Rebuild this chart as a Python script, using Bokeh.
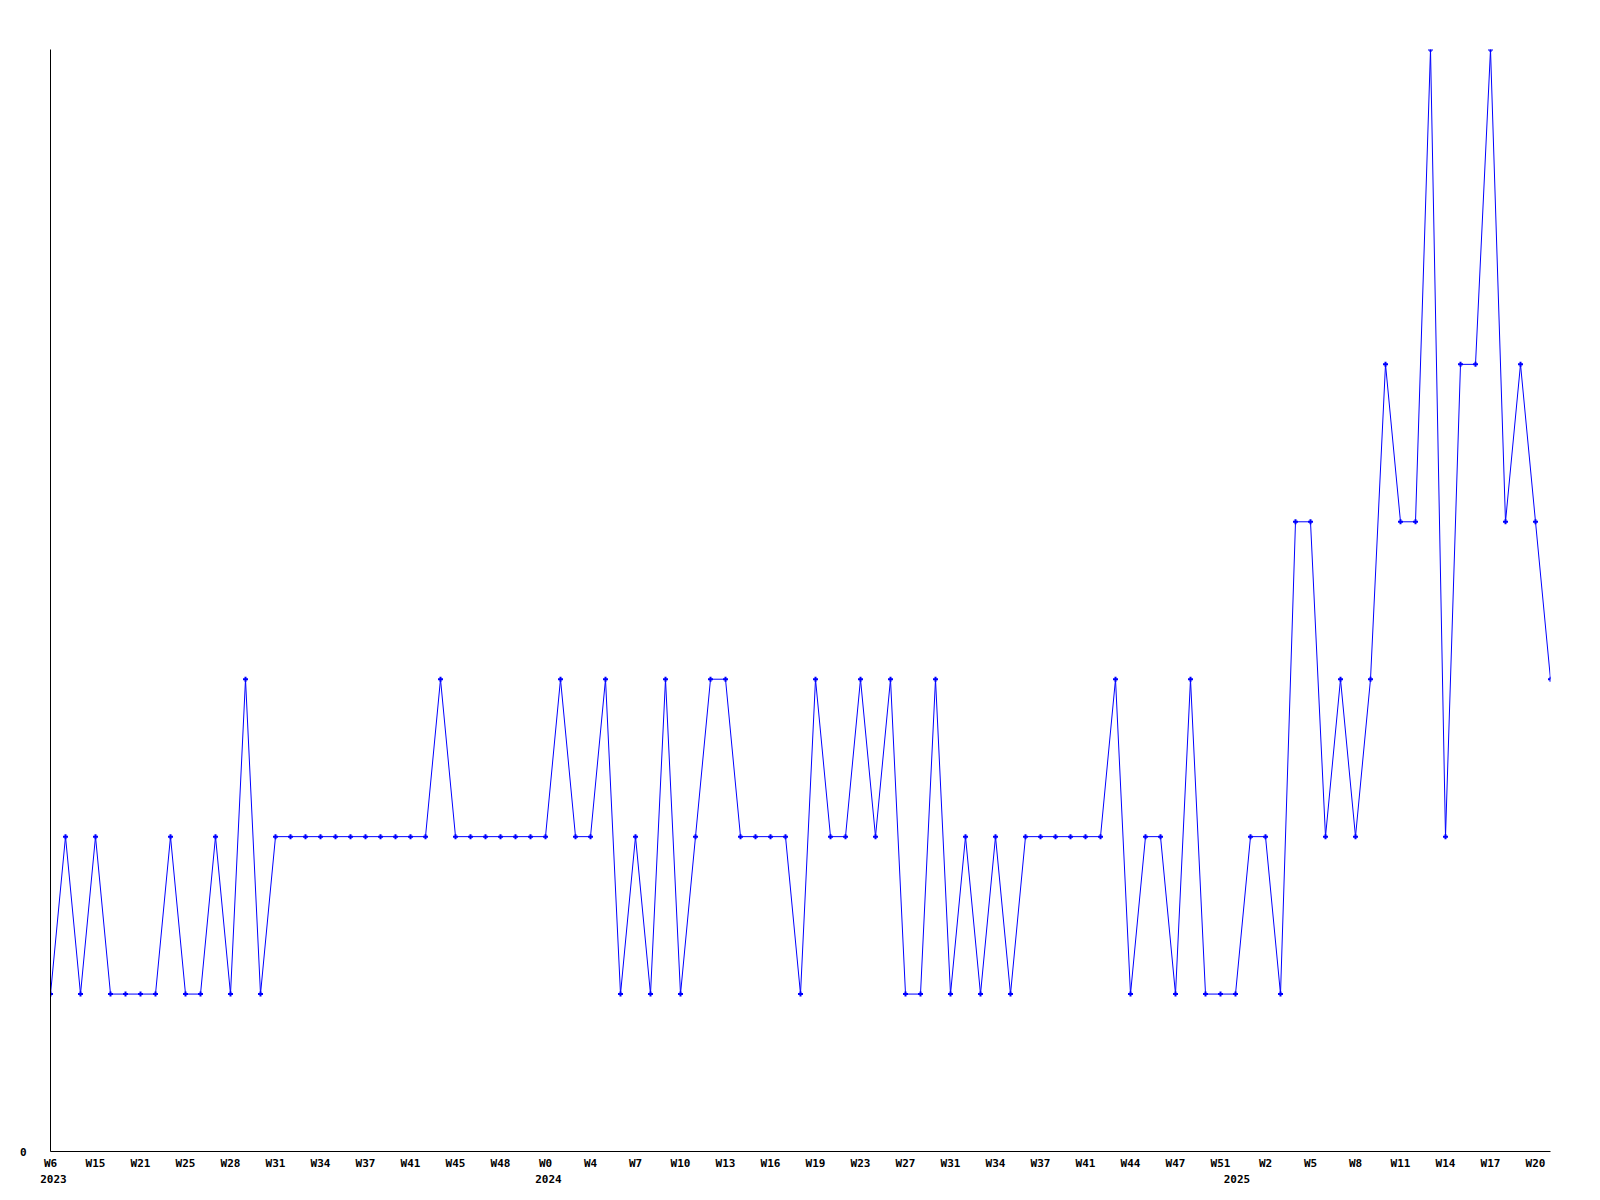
from bokeh.plotting import figure
from bokeh.models import Range1d, FixedTicker, LinearAxis, ColumnDataSource
from bokeh.embed import file_html
from bokeh.resources import INLINE

# weekly counts (one value per week, oldest first)
values = [1, 2, 1, 2, 1, 1, 1, 1, 2, 1, 1, 2, 1, 3, 1, 2,
          2, 2, 2, 2, 2, 2, 2, 2, 2, 2,
          3,
          2, 2, 2, 2, 2, 2, 2,
          3, 2, 2, 3, 1, 2, 1, 3, 1, 2, 3, 3, 2, 2, 2, 2, 1, 3, 2, 2, 3, 2, 3, 1, 1, 3, 1, 2, 1, 2, 1,
          2, 2, 2, 2, 2, 2,
          3, 1, 2, 2, 1, 3, 1, 1, 1, 2, 2, 1, 4, 4, 2, 3, 2, 3, 5, 4, 4, 7, 2, 5, 5, 7, 4, 5, 4, 3]

# tick labels shown every third week
tick_labels = ["W6", "W15", "W21", "W25", "W28", "W31", "W34", "W37", "W41", "W45", "W48",
               "W0", "W4", "W7", "W10", "W13", "W16", "W19", "W23", "W27", "W31", "W34",
               "W37", "W41", "W44", "W47", "W51", "W2", "W5", "W8", "W11", "W14", "W17", "W20"]
tick_step = 3

year_labels = ["2023", "2024", "2025"]
year_index = [0.2, 33.2, 79.1]

y_ticks = [0]

idx = list(range(len(values)))
src = ColumnDataSource(data=dict(x=idx, y=values))

FONT = "DejaVu Sans Mono"

p = figure(width=1584, height=1185, output_backend="svg", toolbar_location=None,
           x_range=Range1d(0, len(values) - 1), y_range=Range1d(0, 7),
           min_border_left=50, min_border_right=34, min_border_top=49, min_border_bottom=30)
p.grid.visible = False
p.outline_line_color = None
p.background_fill_color = "white"
p.border_fill_color = "white"

p.line("x", "y", source=src, line_color="#0000ff", line_width=1)
p.scatter("x", "y", source=src, marker="cross", size=5, line_color="#0000ff", line_width=2)

tick_pos = [i * tick_step for i in range(len(tick_labels))]
xa = p.xaxis[0]
xa.ticker = FixedTicker(ticks=tick_pos)
xa.major_label_overrides = {pos: lab for pos, lab in zip(tick_pos, tick_labels)}
xa.major_tick_line_color = None
xa.minor_tick_line_color = None
xa.major_tick_out = 0
xa.major_tick_in = 0
xa.major_label_standoff = 5
xa.axis_line_color = "black"
xa.major_label_text_font = FONT
xa.major_label_text_font_style = "bold"
xa.major_label_text_font_size = "11px"
xa.major_label_text_color = "black"

ya = LinearAxis(ticker=FixedTicker(ticks=year_index),
                major_label_overrides={pos: lab for pos, lab in zip(year_index, year_labels)})
ya.axis_line_color = None
ya.major_tick_line_color = None
ya.minor_tick_line_color = None
ya.major_tick_out = 0
ya.major_tick_in = 0
ya.major_label_standoff = 2
ya.major_label_text_font = FONT
ya.major_label_text_font_style = "bold"
ya.major_label_text_font_size = "11px"
ya.major_label_text_color = "black"
p.add_layout(ya, "below")

yax = p.yaxis[0]
yax.ticker = FixedTicker(ticks=y_ticks)
yax.major_tick_line_color = None
yax.minor_tick_line_color = None
yax.major_tick_out = 0
yax.major_tick_in = 0
yax.major_label_standoff = 24
yax.axis_line_color = "black"
yax.major_label_text_font = FONT
yax.major_label_text_font_style = "bold"
yax.major_label_text_font_size = "11px"
yax.major_label_text_color = "black"

open("out.html", "w").write(file_html(p, INLINE))
